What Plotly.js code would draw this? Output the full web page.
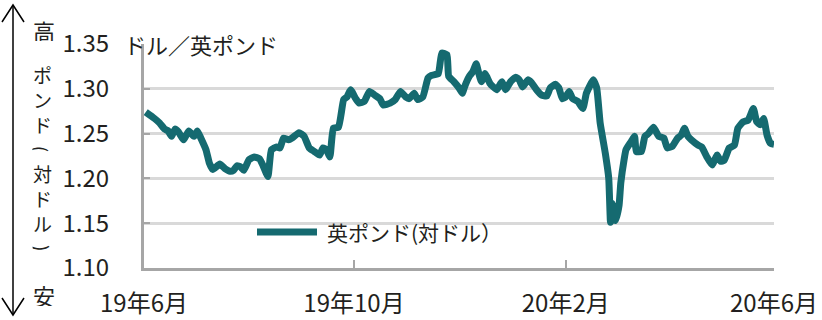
<!DOCTYPE html>
<html>
<head>
<meta charset="utf-8">
<script src="https://cdn.plot.ly/plotly-3.0.1.min.js"></script>
<style>html,body{margin:0;padding:0;background:#fff;}#chart{width:822px;height:320px;}</style>
</head>
<body>
<div id="chart"></div>
<script>
// Days since 2019-06-01 and GBP/USD values
const dayOffsets = [1,6,9,12,14,16,18,20,23,26,29,31,33,36,38,40,44,47,50,52,54,56,58,61,64,67,69,72,74,77,79,81,84,86,90,
  93,96,99,102,104,106,108,110,113,116,118,120,123,125,128,131,134,137,139,143,146,149,152,154,157,159,162,165,167,171,173,176,177,180,183,185,
  186,189,191,193,194,196,198,199,201,203,205,208,210,213,216,218,220,223,225,228,231,234,236,239,241,243,245,247,249,252,255,257,261,263,265,268,270,
  271,272,274,276,277,279,280,283,285,286,289,291,293,296,299,302,304,307,310,312,314,316,318,322,324,327,330,333,335,337,340,343,345,348,351,354,356,358,360,362,364,366];
const gbpusd = [1.274,1.267,1.262,1.255,1.253,1.247,1.255,1.252,1.243,1.253,1.247,1.253,1.245,1.232,1.217,1.210,1.216,1.211,1.208,1.209,1.214,1.213,1.209,1.221,1.224,1.222,1.215,1.202,1.232,1.235,1.234,1.245,1.243,1.245,1.251,
  1.247,1.234,1.230,1.226,1.234,1.232,1.224,1.256,1.257,1.288,1.291,1.299,1.289,1.284,1.286,1.297,1.293,1.289,1.282,1.284,1.288,1.297,1.291,1.289,1.295,1.288,1.291,1.312,1.315,1.317,1.340,1.338,1.314,1.308,1.301,1.295,
  1.301,1.314,1.319,1.328,1.321,1.308,1.317,1.314,1.306,1.302,1.299,1.308,1.299,1.308,1.313,1.310,1.302,1.310,1.307,1.299,1.293,1.292,1.301,1.305,1.301,1.289,1.291,1.297,1.289,1.286,1.278,1.295,1.310,1.301,1.262,1.228,1.200,
  1.151,1.172,1.153,1.170,1.195,1.222,1.232,1.241,1.247,1.230,1.230,1.247,1.250,1.257,1.247,1.245,1.234,1.236,1.245,1.248,1.256,1.247,1.243,1.237,1.235,1.224,1.215,1.226,1.219,1.220,1.234,1.237,1.256,1.263,1.265,1.278,1.263,1.260,1.267,1.248,1.239,1.238];
const yTicks = [1.10,1.15,1.20,1.25,1.30,1.35];
const xTickDates = ['2019-06-01','2019-10-01','2020-02-01','2020-06-01'];
const xTickLabels = ['19年6月','19年10月','20年2月','20年6月'];
const seriesName = '英ポンド(対ドル）';
const unitLabel = 'ドル／英ポンド';
const sideChars = ['ポ','ン','ド','(','対','ド','ル',')'];

const base = Date.UTC(2019,5,1);
const dates = dayOffsets.map(d => new Date(base + d*86400000).toISOString().slice(0,10));

const W=822,H=320,L=144,R=774,T=44,B=268;
const px = x => (x-L)/(R-L);
const py = y => (B-y)/(B-T);
const FONT = '"Noto Sans CJK JP", "Noto Sans", sans-serif';
const TXT = '#231f20';
const TEAL = '#156a70';

const annotations = [];
function label(text,x,y,size,xanchor,extra){
  annotations.push(Object.assign({text:text,x:px(x),y:py(y),xref:'paper',yref:'paper',showarrow:false,
    xanchor:xanchor||'center',yanchor:'middle',font:{family:FONT,size:size,color:TXT}},extra||{}));
}
label(unitLabel,122,44,22,'left');
label('高',44,30,22,'center',{height:22});
sideChars.forEach((c,i)=>{
  const isParen = (c==='('||c===')');
  label(c,42,74+i*24.8,19,'center',isParen?{textangle:90,height:19,width:19}:{height:22});
});
label('安',44,295,22,'center',{height:22});
label(seriesName,325,232,21,'left');

const shapes = [
  {type:'line',xref:'paper',yref:'paper',x0:px(13),x1:px(13),y0:py(5),y1:py(315),line:{color:'#000',width:1.5}},
  {type:'path',xref:'paper',yref:'paper',path:`M${px(2)},${py(22)} L${px(13)},${py(5)} L${px(24)},${py(22)}`,line:{color:'#000',width:1.5}},
  {type:'path',xref:'paper',yref:'paper',path:`M${px(2)},${py(298)} L${px(13)},${py(315)} L${px(24)},${py(298)}`,line:{color:'#000',width:1.5}},
  {type:'line',xref:'paper',yref:'paper',x0:px(257),x1:px(317),y0:py(232),y1:py(232),line:{color:TEAL,width:7}}
];

const trace = {x:dates,y:gbpusd,type:'scatter',mode:'lines',name:seriesName,
  line:{color:TEAL,width:7,shape:'spline',smoothing:0.4},showlegend:false,hoverinfo:'x+y'};

const layout = {
  width:W,height:H,margin:{l:L,r:W-R,t:T,b:H-B,pad:0},
  paper_bgcolor:'#fff',plot_bgcolor:'#fff',showlegend:false,
  font:{family:FONT,color:TXT},
  xaxis:{type:'date',range:['2019-06-01','2020-06-01'],tickmode:'array',tickvals:xTickDates,ticktext:xTickLabels,
    showgrid:false,zeroline:false,showline:true,linecolor:'#a6a6a6',linewidth:3,
    ticks:'inside',ticklen:8,tickwidth:2,tickcolor:'#a6a6a6',ticklabelstandoff:12,
    tickfont:{family:FONT,size:24,color:TXT},fixedrange:true},
  yaxis:{range:[1.10,1.35],tickmode:'array',tickvals:yTicks,ticktext:yTicks.map(v=>v.toFixed(2)),
    showgrid:true,gridcolor:'#d9d9d9',gridwidth:3,zeroline:false,showline:true,linecolor:'#a6a6a6',linewidth:3,
    ticks:'inside',ticklen:6,tickwidth:2,tickcolor:'#a6a6a6',ticklabelstandoff:27,
    tickfont:{family:FONT,size:24,color:TXT},fixedrange:true},
  annotations:annotations,shapes:shapes
};
Plotly.newPlot('chart',[trace],layout,{displayModeBar:false,staticPlot:true});
</script>
</body>
</html>
